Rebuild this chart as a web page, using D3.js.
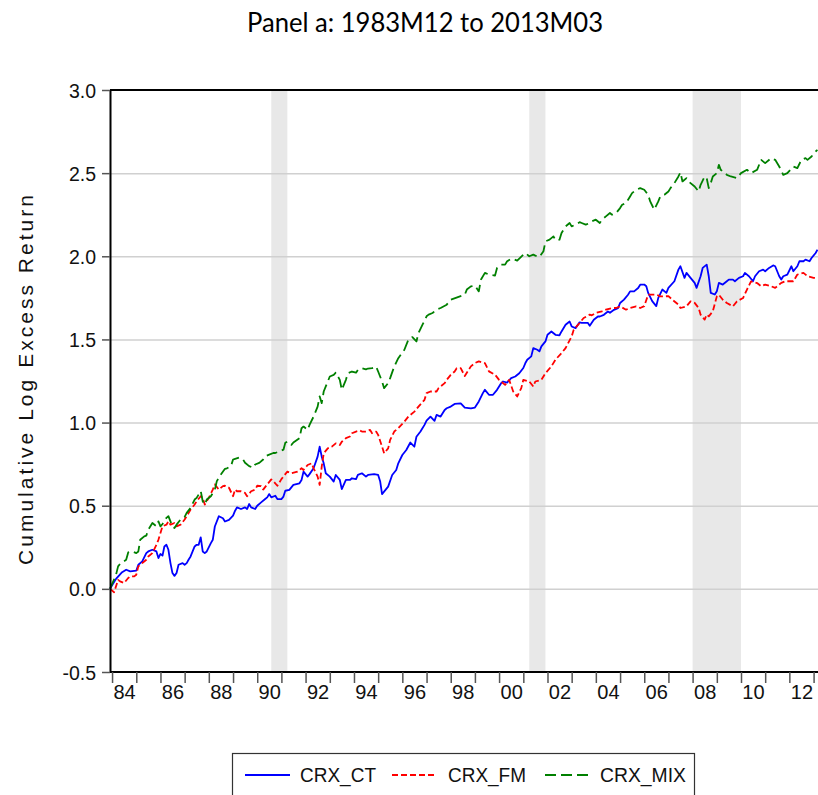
<!DOCTYPE html>
<html>
<head>
<meta charset="utf-8">
<script src="https://cdn.jsdelivr.net/npm/d3@7"></script>
<style>
  body { margin: 0; background: #fff; }
  svg { display: block; }
</style>
</head>
<body>
<div id="chart"></div>
<script>
// month offset from 1983M12, cumulative log excess return
var ctData = [[0,0.00],[3,0.06],[6,0.10],[8,0.115],[10,0.105],[13,0.11],[14,0.145],[16,0.165],[18,0.215],[19,0.225],[21,0.235],[23,0.225],[24,0.185],[25,0.21],[26,0.20],[27,0.255],[28,0.265],[29,0.235],[30,0.155],[31,0.095],[32,0.078],[33,0.095],[34,0.145],[36,0.155],[37,0.145],[38,0.155],[39,0.175],[40,0.195],[42,0.255],[43,0.265],[44,0.265],[45,0.31],[46,0.225],[47,0.215],[48,0.225],[50,0.275],[51,0.295],[52,0.375],[54,0.437],[56,0.425],[57,0.405],[59,0.415],[61,0.44],[62,0.47],[63,0.49],[65,0.48],[67,0.49],[68,0.48],[69,0.51],[70,0.49],[72,0.48],[73,0.50],[75,0.52],[77,0.54],[78,0.55],[79,0.57],[80,0.55],[82,0.56],[83,0.54],[85,0.54],[86,0.555],[87,0.59],[89,0.595],[91,0.625],[94,0.635],[95,0.655],[96,0.705],[98,0.675],[99,0.69],[101,0.725],[103,0.795],[104,0.855],[105,0.795],[106,0.755],[107,0.695],[109,0.675],[111,0.645],[112,0.685],[114,0.655],[115,0.60],[117,0.655],[119,0.655],[120,0.665],[122,0.66],[123,0.685],[125,0.695],[127,0.675],[128,0.685],[131,0.69],[133,0.685],[134,0.645],[135,0.57],[137,0.60],[138,0.615],[140,0.685],[142,0.715],[143,0.755],[145,0.805],[147,0.835],[149,0.88],[151,0.855],[152,0.915],[154,0.946],[156,0.986],[157,1.012],[159,1.036],[161,1.01],[162,1.046],[164,1.036],[166,1.076],[167,1.086],[169,1.096],[171,1.112],[174,1.116],[176,1.09],[178,1.087],[179,1.085],[181,1.09],[183,1.127],[185,1.177],[186,1.197],[188,1.167],[190,1.167],[192,1.197],[194,1.237],[195,1.247],[197,1.24],[199,1.267],[201,1.277],[203,1.297],[205,1.328],[206,1.358],[207,1.378],[209,1.398],[210,1.448],[212,1.438],[213,1.428],[214,1.458],[216,1.488],[217,1.528],[219,1.548],[221,1.528],[223,1.525],[224,1.548],[226,1.588],[228,1.608],[229,1.578],[231,1.568],[233,1.603],[234,1.60],[237,1.60],[238,1.582],[240,1.618],[242,1.638],[243,1.638],[245,1.648],[247,1.668],[248,1.66],[250,1.678],[252,1.688],[253,1.719],[255,1.739],[257,1.769],[258,1.789],[260,1.789],[262,1.809],[263,1.829],[265,1.83],[266,1.82],[267,1.78],[269,1.73],[271,1.70],[272,1.75],[274,1.80],[276,1.78],[277,1.81],[280,1.85],[282,1.92],[283,1.94],[285,1.87],[286,1.90],[288,1.87],[290,1.84],[291,1.81],[293,1.88],[294,1.93],[296,1.95],[297,1.88],[298,1.78],[300,1.77],[301,1.79],[302,1.84],[304,1.83],[306,1.85],[307,1.86],[309,1.86],[310,1.85],[312,1.87],[314,1.88],[315,1.90],[317,1.88],[319,1.85],[320,1.88],[322,1.91],[324,1.92],[325,1.91],[327,1.93],[329,1.945],[330,1.94],[332,1.88],[333,1.86],[334,1.88],[336,1.89],[338,1.94],[339,1.91],[341,1.94],[342,1.97],[344,1.97],[345,1.98],[347,1.97],[348,1.99],[350,2.02],[351,2.04]];

var fmData = [[0,0.0],[2,-0.02],[4,0.054],[5,0.045],[7,0.035],[9,0.065],[10,0.075],[12,0.075],[13,0.085],[14,0.135],[16,0.155],[18,0.175],[19,0.195],[21,0.215],[23,0.265],[24,0.295],[25,0.336],[26,0.376],[28,0.386],[29,0.406],[30,0.386],[32,0.396],[33,0.376],[35,0.386],[37,0.417],[38,0.437],[40,0.477],[42,0.507],[43,0.527],[45,0.557],[46,0.547],[47,0.507],[49,0.547],[51,0.597],[52,0.628],[54,0.597],[56,0.618],[57,0.62],[59,0.608],[61,0.557],[62,0.597],[63,0.587],[65,0.587],[67,0.577],[68,0.557],[70,0.587],[72,0.597],[73,0.62],[75,0.618],[76,0.597],[78,0.628],[80,0.658],[81,0.648],[83,0.62],[85,0.66],[87,0.69],[88,0.705],[90,0.695],[93,0.705],[95,0.725],[96,0.715],[98,0.745],[100,0.755],[101,0.725],[103,0.675],[104,0.625],[105,0.735],[106,0.815],[108,0.845],[110,0.855],[112,0.875],[114,0.865],[115,0.885],[117,0.906],[119,0.916],[120,0.936],[122,0.946],[124,0.952],[125,0.946],[127,0.946],[129,0.956],[130,0.936],[132,0.946],[133,0.926],[135,0.855],[136,0.815],[138,0.845],[139,0.896],[141,0.946],[143,0.966],[146,1.006],[148,1.036],[151,1.066],[153,1.096],[156,1.137],[157,1.177],[159,1.187],[162,1.187],[163,1.207],[166,1.237],[167,1.257],[169,1.287],[171,1.307],[172,1.327],[174,1.327],[176,1.28],[177,1.30],[179,1.338],[181,1.358],[183,1.368],[186,1.358],[188,1.308],[191,1.288],[193,1.257],[196,1.227],[198,1.257],[200,1.187],[202,1.157],[204,1.207],[205,1.257],[208,1.247],[210,1.217],[211,1.247],[214,1.257],[216,1.297],[219,1.338],[221,1.378],[224,1.418],[226,1.448],[229,1.518],[230,1.558],[233,1.599],[235,1.629],[238,1.649],[239,1.645],[241,1.659],[244,1.669],[246,1.679],[249,1.689],[251,1.689],[253,1.699],[256,1.679],[258,1.689],[261,1.699],[263,1.689],[265,1.70],[267,1.769],[268,1.77],[271,1.77],[273,1.759],[277,1.76],[279,1.739],[282,1.709],[283,1.689],[286,1.699],[288,1.729],[290,1.72],[292,1.689],[293,1.649],[295,1.619],[296,1.649],[297,1.639],[299,1.669],[301,1.759],[302,1.769],[304,1.739],[306,1.719],[309,1.699],[311,1.729],[314,1.749],[316,1.80],[318,1.849],[321,1.839],[323,1.82],[325,1.83],[328,1.82],[330,1.81],[333,1.84],[335,1.85],[339,1.85],[341,1.89],[344,1.90],[346,1.88],[349,1.87],[351,1.87]];

var mixData = [[0,0.0],[3,0.085],[4,0.135],[5,0.15],[8,0.175],[9,0.219],[11,0.225],[13,0.215],[14,0.225],[15,0.295],[17,0.316],[18,0.32],[19,0.356],[21,0.396],[23,0.376],[24,0.406],[25,0.376],[26,0.39],[28,0.427],[29,0.437],[30,0.406],[31,0.376],[32,0.366],[33,0.386],[35,0.417],[37,0.433],[38,0.457],[40,0.487],[42,0.537],[43,0.547],[45,0.588],[46,0.527],[47,0.507],[48,0.537],[50,0.557],[52,0.597],[53,0.648],[55,0.688],[57,0.722],[58,0.725],[60,0.738],[61,0.778],[62,0.782],[64,0.789],[66,0.778],[67,0.758],[69,0.738],[71,0.728],[72,0.748],[74,0.758],[76,0.778],[77,0.797],[79,0.807],[81,0.817],[82,0.817],[84,0.827],[86,0.837],[87,0.878],[88,0.886],[90,0.866],[91,0.88],[94,0.906],[95,0.966],[96,0.976],[98,0.956],[99,0.986],[101,1.036],[103,1.096],[104,1.157],[105,1.117],[106,1.187],[108,1.247],[109,1.277],[111,1.287],[112,1.30],[114,1.257],[115,1.197],[117,1.257],[118,1.297],[120,1.307],[122,1.30],[123,1.317],[125,1.327],[127,1.32],[128,1.325],[130,1.327],[132,1.337],[133,1.307],[135,1.247],[136,1.207],[138,1.237],[139,1.267],[141,1.337],[143,1.387],[146,1.438],[148,1.498],[150,1.514],[152,1.488],[153,1.538],[155,1.589],[157,1.639],[158,1.649],[160,1.659],[162,1.679],[164,1.689],[167,1.709],[169,1.739],[176,1.769],[177,1.80],[179,1.819],[181,1.823],[183,1.789],[184,1.859],[186,1.90],[188,1.89],[191,1.884],[192,1.93],[194,1.95],[196,1.95],[197,1.97],[199,1.984],[200,1.984],[202,1.974],[205,2.01],[206,2.02],[208,2.0],[210,2.01],[211,2.004],[213,1.996],[215,2.03],[216,2.09],[218,2.10],[220,2.12],[221,2.097],[223,2.10],[224,2.14],[226,2.18],[228,2.20],[229,2.18],[231,2.19],[233,2.205],[234,2.20],[236,2.19],[238,2.20],[239,2.21],[241,2.22],[243,2.20],[244,2.22],[246,2.24],[248,2.26],[249,2.25],[251,2.26],[253,2.29],[254,2.31],[256,2.32],[258,2.36],[259,2.38],[261,2.40],[263,2.41],[265,2.40],[267,2.37],[268,2.33],[270,2.28],[272,2.33],[273,2.36],[275,2.37],[277,2.39],[278,2.41],[280,2.44],[282,2.48],[283,2.505],[284,2.45],[286,2.47],[287,2.45],[290,2.42],[292,2.39],[293,2.43],[295,2.48],[296,2.47],[297,2.41],[298,2.44],[299,2.48],[301,2.50],[302,2.55],[303,2.52],[306,2.49],[308,2.48],[311,2.47],[313,2.50],[316,2.52],[318,2.50],[321,2.52],[323,2.58],[325,2.56],[328,2.59],[330,2.58],[332,2.54],[334,2.49],[336,2.50],[339,2.54],[341,2.53],[343,2.58],[345,2.59],[346,2.58],[348,2.60],[350,2.63],[351,2.64]];

// shaded recession periods [start, end]
var recessions = [["1990-08", "1991-04"], ["2001-04", "2001-12"], ["2008-01", "2010-01"]];
var yTicks = [-0.5, 0.0, 0.5, 1.0, 1.5, 2.0, 2.5, 3.0];
var seriesNames = ["CRX_CT", "CRX_FM", "CRX_MIX"];

var W = 818, H = 795;
var plotL = 110, plotR = 817.5, plotT = 90, plotB = 672;

var parseMonth = d3.timeParse("%Y-%m");
function monthDate(m) { return new Date(1983, 11 + m, 1); }

var svg = d3.select("#chart").append("svg")
  .attr("width", W)
  .attr("height", H);

var x = d3.scaleTime()
  .domain([monthDate(0), monthDate(351)])
  .range([plotL, plotR]);

var y = d3.scaleLinear()
  .domain([-0.5, 3.0])
  .range([plotB, plotT]);

// recession shading
svg.append("g").selectAll("rect")
  .data(recessions)
  .enter()
  .append("rect")
    .attr("x", function(d) { return x(parseMonth(d[0])); })
    .attr("width", function(d) { return x(parseMonth(d[1])) - x(parseMonth(d[0])); })
    .attr("y", plotT)
    .attr("height", plotB - plotT)
    .style("fill", "#e8e8e8");

// horizontal grid
var grid = svg.append("g")
  .attr("transform", "translate(" + plotL + ",0)")
  .call(d3.axisLeft(y).tickValues(yTicks.slice(1, -1)).tickSize(-(W - plotL)).tickFormat(""));
grid.select(".domain").remove();
grid.selectAll("line").style("stroke", "#d0d0d0").style("stroke-width", 1.5);

// lines
var line = d3.line()
  .x(function(d) { return x(monthDate(d[0])); })
  .y(function(d) { return y(d[1]); });

var styles = [
  {data: ctData, color: "#0000ff", dash: null},
  {data: fmData, color: "#ff0000", dash: "6,3"},
  {data: mixData, color: "#008000", dash: "11,5"}
];

styles.forEach(function(s) {
  svg.append("path")
    .datum(s.data)
    .attr("d", line)
    .style("fill", "none")
    .style("stroke", s.color)
    .style("stroke-width", 1.8)
    .style("stroke-dasharray", s.dash)
    .style("stroke-linejoin", "round");
});

// top frame
svg.append("line")
  .attr("x1", plotL).attr("x2", W)
  .attr("y1", plotT).attr("y2", plotT)
  .style("stroke", "#000").style("stroke-width", 2);

// y axis
var yAxis = svg.append("g")
  .attr("transform", "translate(" + plotL + ",0)")
  .call(d3.axisLeft(y).tickValues(yTicks).tickSize(8).tickSizeOuter(0)
    .tickFormat(function(d) { return d.toFixed(1); }));
yAxis.select(".domain").style("stroke", "#000").style("stroke-width", 2);
yAxis.selectAll(".tick line").style("stroke", "#555").style("stroke-width", 1.5);
yAxis.selectAll("text")
  .attr("x", -14)
  .attr("dy", "0.36em")
  .style("font-family", "'Liberation Sans', Arial, sans-serif")
  .style("font-size", "19.5px")
  .style("fill", "#111");

// x axis ticks (each January)
var yearTicks = d3.range(1984, 2014).map(function(yr) { return new Date(yr, 0, 1); });
var xAxis = svg.append("g")
  .attr("transform", "translate(0," + plotB + ")")
  .call(d3.axisBottom(x).tickValues(yearTicks).tickSize(11).tickSizeOuter(0).tickFormat(""));
xAxis.select(".domain")
  .attr("d", "M" + plotL + ",0H" + W)
  .style("stroke", "#000").style("stroke-width", 2);
xAxis.selectAll(".tick line").style("stroke", "#555").style("stroke-width", 1.5);

// x labels mid-year, every second year
var labelTicks = d3.range(1984, 2013, 2).map(function(yr) { return new Date(yr, 6, 1); });
var xLabels = svg.append("g")
  .attr("transform", "translate(0," + plotB + ")")
  .call(d3.axisBottom(x).tickValues(labelTicks).tickSize(0).tickFormat(d3.timeFormat("%y")));
xLabels.select(".domain").remove();
xLabels.selectAll("text")
  .attr("y", 13)
  .attr("dy", "0.71em")
  .style("font-family", "'Liberation Sans', Arial, sans-serif")
  .style("font-size", "20px")
  .style("fill", "#111");

// title
svg.append("text")
  .attr("x", 425)
  .attr("y", 32)
  .attr("text-anchor", "middle")
  .attr("textLength", 356)
  .attr("lengthAdjust", "spacingAndGlyphs")
  .style("font-family", "Lato, 'Open Sans', sans-serif")
  .style("font-size", "26px")
  .style("fill", "#000")
  .text("Panel a: 1983M12 to 2013M03");

// y axis title
svg.append("text")
  .attr("transform", "translate(33,380) rotate(-90)")
  .attr("text-anchor", "middle")
  .attr("textLength", 370)
  .attr("lengthAdjust", "spacing")
  .style("font-family", "'Liberation Sans', Arial, sans-serif")
  .style("font-size", "21px")
  .style("fill", "#111")
  .text("Cumulative Log Excess Return");

// legend
var legend = svg.append("g");
legend.append("rect")
  .attr("x", 232.5).attr("y", 753.5)
  .attr("width", 462).attr("height", 60)
  .style("fill", "#fff")
  .style("stroke", "#333")
  .style("stroke-width", 1.2);

var legendX = [[245, 300, 76], [392, 448, 78], [545, 600, 86]];
styles.forEach(function(s, i) {
  legend.append("line")
    .attr("x1", legendX[i][0]).attr("x2", legendX[i][0] + 45)
    .attr("y1", 775).attr("y2", 775)
    .style("stroke", s.color)
    .style("stroke-width", 1.8)
    .style("stroke-dasharray", s.dash);
  legend.append("text")
    .attr("x", legendX[i][1])
    .attr("y", 782)
    .attr("textLength", legendX[i][2])
    .attr("lengthAdjust", "spacingAndGlyphs")
    .style("font-family", "'Liberation Sans', Arial, sans-serif")
    .style("font-size", "21px")
    .style("fill", "#111")
    .text(seriesNames[i]);
});
</script>
</body>
</html>
